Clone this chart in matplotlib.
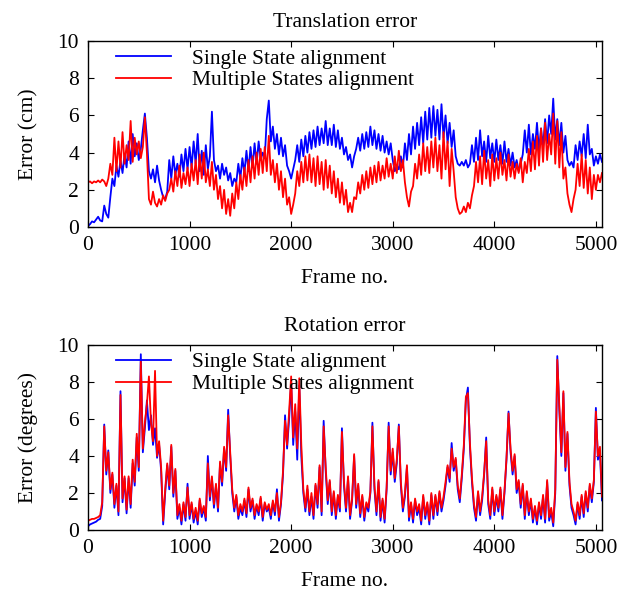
import numpy as np
import matplotlib.pyplot as plt

plt.rcParams['font.family'] = 'Liberation Serif'
plt.rcParams['font.size'] = 15.5
plt.rc('axes', unicode_minus=False)

# frames are sampled every 20 frames, 0 .. 5060
FRAME_STEP = 20

# translation error (cm), single state alignment
trans_single = [
    0.05, 0.15, 0.3, 0.25, 0.4, 0.55, 0.35, 0.3, 1.15, 0.7,
    0.5, 1.6, 2.6, 2.2, 3.3, 2.7, 3.6, 2.9, 3.9, 3.2,
    4.6, 3.4, 5.0, 3.8, 4.5, 3.6, 4.2, 5.2, 6.1, 4.8,
    3.0, 2.6, 3.1, 2.4, 3.3, 2.5, 2.0, 1.6, 1.5, 1.9,
    3.6, 2.6, 3.8, 2.8, 3.4, 2.7, 3.9, 3.0, 4.2, 3.1,
    4.3, 3.2, 4.6, 3.4, 5.0, 3.0, 4.1, 2.8, 4.4, 3.1,
    3.8, 6.2, 3.6, 3.0, 3.3, 2.6, 3.4, 2.8, 3.2, 2.5,
    2.9, 2.2, 2.6, 2.4, 3.4, 2.6, 3.7, 2.9, 4.1, 3.0,
    4.3, 3.2, 4.5, 3.4, 4.6, 3.6, 4.0, 3.7, 5.8, 6.8,
    4.6, 5.4, 4.2, 5.0, 3.9, 4.8, 3.8, 4.4, 3.3, 3.0,
    2.6, 3.1, 3.6, 4.4, 3.5, 4.7, 3.8, 4.9, 4.0, 5.1,
    4.2, 5.2, 4.3, 5.4, 4.4, 5.3, 4.5, 5.7, 4.4, 5.3,
    4.4, 5.5, 4.3, 5.2, 4.2, 4.8, 3.9, 4.3, 3.6, 3.9,
    3.2, 3.8, 4.2, 4.8, 4.1, 5.0, 4.2, 5.1, 4.3, 5.4,
    4.4, 5.2, 4.2, 5.0, 4.1, 4.9, 4.0, 4.6, 3.9, 4.5,
    3.6, 3.0, 3.3, 3.1, 3.8, 3.2, 4.5, 3.6, 5.0, 3.9,
    5.4, 4.2, 5.6, 4.4, 5.9, 4.5, 6.2, 4.7, 6.4, 4.8,
    6.5, 4.9, 6.3, 4.7, 6.6, 4.8, 6.0, 4.5, 5.6, 4.3,
    5.2, 3.8, 3.4, 3.3, 3.5, 3.3, 3.6, 3.2, 3.4, 4.4,
    3.5, 4.8, 3.6, 5.2, 3.8, 4.6, 3.5, 4.9, 3.7, 4.5,
    3.5, 4.7, 3.6, 4.4, 3.4, 4.6, 3.5, 4.2, 3.3, 4.0,
    3.2, 3.6, 3.0, 3.4, 3.9, 5.2, 4.0, 5.5, 3.9, 5.0,
    4.2, 5.6, 4.1, 5.3, 4.3, 5.8, 4.5, 6.0, 5.0, 6.9,
    4.7, 5.8, 4.4, 5.6, 4.0, 4.9, 3.6, 3.3, 3.5, 3.2,
    4.4, 3.6, 4.6, 3.8, 5.0, 3.7, 5.5, 3.9, 4.2, 3.3,
    3.8, 3.4, 3.9, 3.5,
]

# translation error (cm), multiple states alignment
trans_multi = [
    2.4, 2.45, 2.35, 2.45, 2.4, 2.5, 2.4, 2.55, 2.45, 2.2,
    2.6, 3.4, 2.8, 4.8, 3.0, 4.6, 3.2, 5.1, 3.4, 4.4,
    3.6, 5.7, 3.5, 4.8, 3.9, 4.6, 3.7, 4.3, 5.9, 4.0,
    1.5, 1.2, 1.9, 1.3, 1.1, 1.5, 1.2, 1.7, 1.4, 1.8,
    2.0, 2.6, 1.9, 3.0, 2.2, 3.3, 2.1, 2.9, 2.3, 3.2,
    2.2, 3.4, 2.5, 3.6, 2.3, 3.9, 2.6, 4.0, 2.4, 3.1,
    2.2, 3.5, 2.0, 2.8, 1.5, 2.2, 1.0, 2.0, 0.7, 1.5,
    0.6, 1.8, 1.0, 2.4, 1.5, 2.8, 2.0, 3.2, 2.2, 3.6,
    2.4, 3.8, 2.6, 4.0, 2.8, 4.2, 2.9, 4.3, 3.0, 4.9,
    2.8, 3.6, 2.4, 3.4, 2.0, 3.0, 1.6, 2.6, 1.2, 1.6,
    0.7, 1.2, 1.8, 3.0, 2.2, 3.5, 2.4, 3.8, 2.5, 3.9,
    2.4, 3.7, 2.2, 3.8, 2.3, 3.5, 2.0, 3.6, 2.1, 3.3,
    1.8, 3.0, 1.6, 2.6, 1.3, 2.4, 1.2, 2.0, 0.8, 1.3,
    0.8, 1.6, 1.5, 2.4, 1.8, 2.8, 2.0, 3.0, 2.1, 3.2,
    2.3, 3.3, 2.4, 3.5, 2.5, 3.3, 2.6, 3.7, 2.7, 3.4,
    2.6, 3.8, 2.9, 4.1, 3.0, 3.6, 2.4, 1.6, 1.1, 1.9,
    2.2, 3.4, 2.6, 3.9, 2.8, 4.5, 3.0, 4.3, 2.9, 4.6,
    3.2, 4.8, 3.0, 4.4, 2.6, 5.1, 3.1, 4.6, 2.2, 4.2,
    3.0, 1.6, 1.0, 0.7, 0.8, 1.1, 0.8, 1.3, 1.0, 1.7,
    2.2, 3.5, 2.4, 3.8, 2.3, 4.1, 2.6, 3.6, 2.2, 3.9,
    2.5, 3.7, 2.6, 4.0, 2.8, 3.6, 2.5, 3.9, 2.7, 3.5,
    2.6, 3.4, 2.9, 3.7, 2.4, 3.5, 2.9, 4.2, 3.0, 4.6,
    3.1, 4.9, 3.3, 5.3, 3.5, 5.6, 3.6, 5.0, 3.9, 6.1,
    3.4, 5.7, 3.2, 5.1, 2.6, 3.2, 1.8, 1.2, 0.8, 1.5,
    2.0, 3.4, 2.2, 3.9, 2.1, 3.6, 1.8, 3.2, 1.5, 2.8,
    2.0, 2.8, 2.4, 2.9,
]

# rotation error (degrees), single state alignment
rot_single = [
    0.2, 0.3, 0.35, 0.4, 0.45, 0.55, 0.6, 1.3, 5.7, 3.0,
    4.3, 2.0, 3.0, 1.2, 2.4, 0.8, 7.5, 1.5, 2.8, 0.9,
    2.8, 1.2, 3.6, 2.4, 5.0, 3.2, 9.5, 4.2, 5.5, 7.0,
    5.4, 6.2, 4.6, 5.5, 3.9, 4.6, 3.2, 0.3, 2.0, 3.5,
    2.2, 4.5, 1.8, 3.2, 0.6, 1.2, 0.3, 1.4, 0.5, 2.5,
    0.6, 1.4, 0.4, 1.0, 0.3, 1.6, 0.7, 1.2, 0.5, 4.0,
    1.6, 2.8, 1.2, 2.4, 1.0, 3.6, 2.4, 4.4, 3.2, 6.5,
    4.0, 2.0, 1.0, 1.8, 0.6, 1.2, 0.8, 1.6, 0.7, 2.2,
    1.0, 1.6, 0.6, 1.3, 0.8, 1.7, 0.5, 1.4, 1.0, 1.2,
    0.6, 1.5, 0.8, 2.2, 0.5, 1.4, 3.0, 6.2, 4.4, 6.0,
    8.0, 4.6, 6.4, 3.8, 7.8, 4.0, 2.0, 1.0, 2.2, 0.8,
    1.8, 0.6, 2.4, 1.2, 3.4, 0.8, 5.9, 3.2, 1.4, 2.6,
    0.8, 2.0, 0.6, 1.8, 1.0, 5.5, 2.4, 1.0, 2.8, 0.6,
    1.6, 4.0, 1.2, 2.4, 0.7, 1.8, 0.5, 1.4, 1.0, 2.0,
    5.8, 2.2, 0.8, 2.6, 0.5, 1.6, 0.4, 2.2, 5.8, 3.0,
    4.2, 2.6, 3.6, 5.7, 2.4, 1.0, 1.8, 3.4, 0.5, 1.4,
    0.4, 1.6, 0.8, 1.2, 0.3, 1.8, 0.6, 1.4, 0.3, 1.9,
    0.6, 1.8, 0.8, 2.0, 1.0, 1.6, 2.4, 3.4, 2.6, 4.7,
    3.2, 3.8, 2.2, 1.5, 2.8, 4.4, 7.0, 7.7, 4.5, 2.6,
    1.2, 0.5, 2.0, 0.8, 1.6, 3.0, 5.0, 1.4, 0.6, 2.2,
    0.8, 1.8, 1.0, 2.2, 0.6, 2.0, 3.8, 6.4, 4.2, 3.0,
    4.0, 2.0, 2.6, 1.2, 2.4, 0.6, 2.0, 0.8, 1.6, 0.4,
    1.2, 0.3, 1.4, 0.6, 1.8, 0.4, 2.6, 0.5, 1.0, 0.2,
    2.0, 9.4, 6.5, 4.0, 7.4, 3.2, 5.2, 2.4, 1.2, 0.8,
    0.3, 1.4, 0.6, 1.8, 0.7, 2.0, 1.0, 2.4, 1.5, 2.6,
    6.6, 3.8, 4.2, 1.6,
]

# rotation error (degrees), multiple states alignment
rot_multi = [
    0.5, 0.55, 0.6, 0.6, 0.65, 0.7, 0.8, 1.5, 5.6, 3.2,
    4.2, 2.2, 3.1, 1.4, 2.5, 1.0, 7.3, 1.7, 2.9, 1.1,
    2.9, 1.4, 3.8, 2.6, 5.2, 3.4, 9.1, 4.4, 5.8, 6.8,
    8.3, 5.8, 4.8, 8.6, 4.0, 4.8, 3.4, 0.5, 2.2, 3.6,
    2.4, 4.6, 2.0, 3.3, 0.8, 1.4, 0.5, 1.5, 0.7, 2.3,
    0.8, 1.5, 0.6, 1.2, 0.5, 1.7, 0.9, 1.3, 0.7, 3.6,
    1.8, 2.9, 1.4, 2.5, 1.2, 3.7, 2.6, 4.5, 3.4, 6.2,
    4.2, 2.2, 1.2, 1.9, 0.8, 1.4, 1.0, 1.7, 0.9, 2.3,
    1.2, 1.7, 0.8, 1.4, 1.0, 1.8, 0.7, 1.5, 1.1, 1.4,
    0.8, 1.6, 1.0, 2.0, 0.7, 1.5, 3.2, 5.9, 4.6, 6.4,
    8.3, 5.0, 6.8, 4.4, 8.2, 4.6, 2.2, 1.2, 2.4, 1.0,
    2.0, 0.8, 2.5, 1.4, 3.5, 1.0, 5.6, 3.4, 1.6, 2.7,
    1.0, 2.1, 0.8, 1.9, 1.2, 5.3, 2.6, 1.2, 2.9, 0.8,
    1.7, 4.1, 1.4, 2.5, 0.9, 1.9, 0.7, 1.5, 1.2, 2.1,
    5.6, 2.4, 1.0, 2.7, 0.7, 1.7, 0.6, 2.3, 5.6, 3.2,
    4.4, 2.8, 3.8, 5.6, 2.6, 1.2, 2.0, 3.5, 0.7, 1.5,
    0.6, 1.7, 1.0, 1.4, 0.5, 1.9, 0.8, 1.5, 0.5, 2.0,
    0.8, 1.9, 1.0, 2.1, 1.2, 1.8, 2.6, 3.5, 2.8, 4.4,
    3.4, 3.9, 2.4, 1.7, 3.0, 4.6, 7.2, 7.4, 4.7, 2.8,
    1.4, 0.7, 2.1, 1.0, 1.8, 3.1, 4.8, 1.6, 0.8, 2.3,
    1.0, 1.9, 1.2, 2.3, 0.8, 2.1, 3.9, 6.3, 4.4, 3.2,
    4.1, 2.2, 2.7, 1.4, 2.5, 0.8, 2.1, 1.0, 1.7, 0.6,
    1.3, 0.5, 1.5, 0.8, 1.9, 0.6, 2.7, 0.7, 1.2, 0.4,
    2.2, 9.2, 6.7, 4.2, 7.5, 3.4, 5.3, 2.6, 1.4, 1.0,
    0.5, 1.5, 0.8, 1.9, 0.9, 2.1, 1.2, 2.5, 1.7, 2.7,
    6.4, 4.0, 4.5, 1.8,
]

labels = ['Single State alignment', 'Multiple States alignment']
titles = ['Translation error', 'Rotation error']
ylabels = ['Error (cm)', 'Error (degrees)']

FS = 15.5


def style_axis(ax, title, ylabel):
    ax.set_xlim(0, 5060)
    ax.set_ylim(0, 10)
    ax.set_xticks(np.arange(0, 5001, 1000))
    ax.set_yticks(np.arange(0, 11, 2))
    ax.tick_params(direction='in', top=True, right=True, length=4,
                   width=0.8, labelsize=FS, pad=6.5)
    for sp in ax.spines.values():
        sp.set_linewidth(1.0)
    ax.set_title(title, fontsize=FS, pad=10)
    ax.set_xlabel('Frame no.', fontsize=FS, labelpad=10)
    ax.set_ylabel(ylabel, fontsize=FS, labelpad=14)
    ax.legend(loc='upper left', bbox_to_anchor=(0.054, 0.96),
              frameon=False, fontsize=FS, handlelength=2.55,
              handletextpad=1.0, labelspacing=0.08, borderpad=0,
              borderaxespad=0)


def plot_charts():
    fig = plt.figure(figsize=(6.33, 5.9), dpi=100)
    ax1 = fig.add_axes([0.139, 0.6153, 0.812, 0.3152])
    ax2 = fig.add_axes([0.139, 0.1017, 0.812, 0.3136])

    frames = np.arange(len(trans_single)) * FRAME_STEP

    ax1.plot(frames, trans_single, color='#0000ff', linewidth=1.3, label=labels[0])
    ax1.plot(frames, trans_multi, color='#ff0000', linewidth=1.3, label=labels[1])

    ax2.plot(frames, rot_single, color='#0000ff', linewidth=1.3, label=labels[0])
    ax2.plot(frames, rot_multi, color='#ff0000', linewidth=1.3, label=labels[1])

    style_axis(ax1, titles[0], ylabels[0])
    style_axis(ax2, titles[1], ylabels[1])

    fig.savefig('out.png', dpi=100)


if __name__ == '__main__':
    plot_charts()
